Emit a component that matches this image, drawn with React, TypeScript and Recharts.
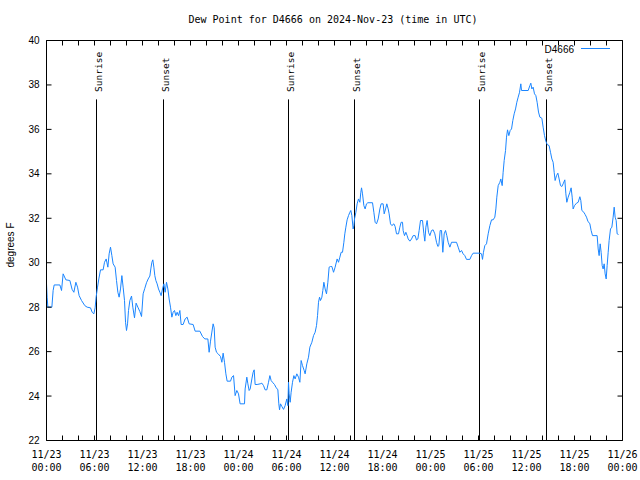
import { LineChart, Line, XAxis, YAxis, ReferenceLine } from 'recharts'

// hours since 2024-11-23 00:00 UTC
const hours = [
  0, 0.08, 0.17, 0.67, 0.83, 0.96, 1.67, 1.88, 2.08, 2.42,
  2.92, 3.2, 3.42, 3.67, 3.88, 4.08, 4.38, 4.79, 5.08, 5.5,
  5.71, 5.92, 6.08, 6.2, 6.38, 6.54, 6.75, 7.08, 7.25, 7.46,
  7.67, 7.83, 8.0, 8.17, 8.33, 8.58, 8.75, 8.92, 9.08, 9.25,
  9.42, 9.58, 9.75, 9.88, 10.0, 10.13, 10.25, 10.42, 10.63, 10.79,
  11.0, 11.2, 11.42,
  11.67, 11.88, 12.08, 12.29, 12.5, 12.71, 12.92, 13.04, 13.17, 13.29,
  13.42, 13.54, 13.67, 13.83, 14.0, 14.17, 14.33, 14.5, 14.67, 14.83,
  15.0, 15.17, 15.33, 15.5, 15.67, 15.83, 16.0, 16.17, 16.33, 16.5,
  16.67, 16.83, 17.08, 17.33, 17.58, 17.83, 18.33, 18.58, 19.17, 19.5,
  19.79, 20.17, 20.33, 20.5, 20.67, 20.83, 20.96, 21.08, 21.25, 21.46,
  21.75, 21.92, 22.08, 22.25, 22.42, 22.58, 23.0,
  23.17, 23.38, 23.58, 23.79, 24.0, 24.2, 24.75, 24.83, 25.04, 25.17,
  25.33, 25.46, 25.67, 25.83, 25.96, 26.08, 26.33, 26.71, 26.92, 27.13,
  27.33, 27.54, 27.75, 27.92, 28.08, 28.25, 28.5, 28.67, 28.92, 29.04,
  29.13, 29.25, 29.42, 29.63, 29.83, 30.04, 30.17, 30.25, 30.33, 30.46,
  30.58, 30.75, 30.92, 31.08, 31.29, 31.5, 31.67, 31.83, 32.0, 32.21,
  32.33, 32.54, 32.75, 32.92, 33.17, 33.38, 33.58, 33.75, 33.88, 34.0,
  34.13, 34.25, 34.42, 34.54, 34.67, 34.83, 35.0, 35.17, 35.33, 35.5,
  35.67, 35.88, 36.08,
  36.33, 36.5, 36.67, 36.83, 37.0, 37.17, 37.29, 37.42, 37.58, 37.75,
  37.92, 38.04, 38.17, 38.33, 38.42, 38.5, 38.67, 38.83, 39.0, 39.17,
  39.29, 39.38, 39.5, 39.67, 39.83, 40.0, 40.17, 40.75, 40.92, 41.08,
  41.25, 41.46, 41.67, 41.83, 42.08, 42.21, 42.38, 42.54, 42.71, 42.83,
  43.0, 43.17, 43.42, 43.58, 43.75, 44.0, 44.17, 44.33, 44.5, 44.58,
  44.75, 44.92, 45.08, 45.21, 45.42, 45.63, 45.83, 46.08, 46.25, 46.42,
  46.58, 46.75, 47.0, 47.17, 47.29, 47.42, 47.58, 47.75, 47.92, 48.13,
  48.33, 48.54, 48.75, 48.92,
  49.04, 49.21, 49.38, 49.54, 49.71, 49.88, 50.04, 50.21, 50.42, 50.63,
  51.25, 51.46, 51.67, 51.88, 52.08, 52.29, 52.5, 52.92, 53.13, 53.33,
  54.17, 54.38, 54.5, 54.62, 54.79, 55.0, 55.21, 55.42, 55.63, 55.83,
  56.04, 56.17, 56.29, 56.46, 56.67, 56.79, 56.96, 57.08, 57.21, 57.38,
  57.5, 57.63, 57.79, 57.96, 58.13, 58.29, 58.46, 58.63, 58.79, 58.96,
  59.13, 59.29,
  59.38, 60.21, 60.42, 60.54, 60.67, 60.83, 61.0, 61.17, 61.33, 61.5,
  61.67, 61.92, 62.08, 62.25, 62.42, 62.58, 62.83, 63.0, 63.17, 63.33,
  63.46, 63.58, 63.75, 63.92, 64.08, 64.25, 64.42, 64.58, 64.79, 64.92,
  65.04, 65.21, 65.42, 65.58, 65.71, 65.83, 66.0, 66.25, 66.46, 66.67,
  66.79, 66.92, 67.17, 67.33, 67.5, 67.67, 67.92, 68.08, 68.25, 68.83,
  68.96, 69.08, 69.21, 69.33, 69.46, 69.58, 69.71, 69.83, 69.96, 70.08,
  70.21, 70.33, 70.5, 70.67, 70.83, 70.96, 71.08, 71.21, 71.33, 71.5,
]

// dew point, degrees F
const dewPoint = [
  29.05, 28.45, 28.0, 28.0, 28.75, 29.0, 29.0, 28.75, 29.5, 29.23,
  29.2, 28.8, 28.67, 29.12, 28.9, 28.52, 28.3, 28.07, 28.0, 27.97,
  27.77, 27.7, 27.97, 28.45, 28.9, 29.27, 29.68, 29.68, 30.02, 30.17,
  29.8, 30.4, 30.7, 30.32, 29.95, 29.8, 29.2, 28.67, 28.45, 28.82,
  29.42, 28.9, 28.3, 27.32, 26.95, 27.25, 27.85, 28.3, 28.5, 28.0,
  27.52, 28.18, 28.0,
  27.8, 27.58, 28.6, 28.85, 29.1, 29.27, 29.4, 29.72, 30.02, 30.13,
  29.8, 29.42, 29.2, 29.05, 28.82, 28.67, 28.52, 28.82, 29.05, 28.67,
  29.12, 28.82, 28.37, 28.0, 27.55, 27.77, 27.85, 27.62, 27.77, 27.62,
  27.85, 27.22, 27.22, 27.47, 27.55, 27.25, 27.22, 26.92, 26.92, 26.68,
  26.57, 26.57, 25.97, 26.47, 26.88, 27.25, 27.07, 26.2, 25.97, 25.9,
  25.78, 25.52, 25.93, 25.52, 25.0, 24.67, 24.67,
  24.85, 24.92, 24.02, 24.25, 24.1, 23.65, 23.65, 24.32, 24.85, 24.55,
  24.25, 24.32, 24.77, 25.07, 25.18, 24.52, 24.52, 24.55, 24.58, 24.47,
  24.28, 24.28, 24.62, 24.92, 24.7, 24.62, 24.52, 24.4, 24.28, 23.65,
  23.38, 23.65, 23.53, 23.4, 23.57, 23.87, 23.57, 24.62, 24.1, 23.72,
  24.17, 24.62, 24.92, 24.77, 25.0, 24.85, 24.62, 25.6, 25.37, 25.15,
  25.0, 25.45, 25.75, 26.2, 26.42, 26.72, 26.87, 27.17, 27.62, 28.22,
  28.45, 28.3, 28.45, 28.75, 29.12, 28.82, 28.6, 29.12, 29.8, 29.83,
  29.83, 29.57, 29.8,
  30.17, 30.02, 30.25, 30.47, 30.47, 30.92, 31.3, 31.6, 31.93, 32.12,
  32.27, 32.35, 32.12, 31.52, 31.67, 31.97, 32.27, 32.65, 32.87, 32.72,
  33.17, 33.37, 33.1, 32.57, 32.42, 32.65, 32.7, 32.7, 32.27, 31.82,
  31.75, 31.97, 32.42, 32.65, 32.65, 32.2, 32.42, 32.65, 32.42, 32.2,
  31.75, 31.67, 31.75, 31.63, 31.3, 31.3, 31.6, 31.82, 31.82, 31.45,
  31.22, 31.37, 31.22, 31.07, 30.97, 31.07, 31.22, 31.22, 31.02, 31.07,
  31.45, 31.9, 31.9, 31.3, 30.97, 31.6, 31.9, 31.37, 31.22, 31.45,
  31.48, 31.3, 30.92, 30.73,
  30.77, 31.45, 31.45, 30.47, 31.3, 31.45, 31.22, 30.92, 30.7, 30.92,
  30.92, 30.7, 30.47, 30.55, 30.4, 30.32, 30.15, 30.15, 30.32, 30.43,
  30.43, 30.4, 30.15, 30.47, 30.77, 30.85, 31.3, 31.67, 31.93, 31.93,
  32.05, 32.42, 32.95, 33.47, 33.62, 33.77, 33.47, 34.07, 34.6, 35.05,
  35.65, 35.98, 35.72, 35.95, 36.02, 36.4, 36.7, 36.92, 37.22, 37.45,
  37.67, 38.05,
  37.75, 37.75, 37.97, 38.08, 37.82, 37.9, 37.6, 37.52, 37.22, 36.78,
  36.55, 36.5, 36.1, 35.72, 35.47, 35.32, 35.27, 34.97, 34.67, 34.52,
  34.07, 33.7, 33.92, 34.03, 33.77, 33.47, 33.43, 33.55, 33.73, 33.1,
  32.72, 32.95, 33.17, 33.37, 32.95, 32.42, 32.57, 32.68, 32.72, 32.97,
  32.8, 32.35, 32.27, 32.17, 32.05, 31.87, 31.75, 31.45, 31.22, 31.22,
  30.62, 30.32, 30.85, 30.47, 29.87, 29.72, 29.95, 29.5, 29.27, 29.87,
  30.47, 31.0, 31.52, 31.6, 32.05, 32.5, 32.05, 31.9, 31.3, 31.27,
]

const xTicks = [
  0, 2, 4, 6, 8, 10, 12, 14, 16, 18, 20, 22, 24, 26, 28, 30, 32, 34, 36,
  38, 40, 42, 44, 46, 48, 50, 52, 54, 56, 58, 60, 62, 64, 66, 68, 70, 72,
]
const yTicks = [22, 24, 26, 28, 30, 32, 34, 36, 38, 40]
const dayLabels = ['11/23', '11/24', '11/25', '11/26']

const sunrises = [6.25, 30.25, 54.125]
const sunsets = [14.625, 38.5, 62.5]
const markerTop = 37.35

const data = hours.map((h, i) => ({ h, dp: dewPoint[i] }))

const SANS = '"Liberation Sans", Arial, sans-serif'
const MONO = '"DejaVu Sans Mono", monospace'
const BLUE = '#1a85ff'

const XTick = (props: any) => {
  const h = props.payload.value
  if (h % 6 !== 0) return <g />
  const day = dayLabels[Math.floor(h / 24)]
  const hh = String(h % 24).padStart(2, '0')
  return (
    <text textAnchor="middle" fontFamily={MONO} fontSize={10} fill="#000">
      <tspan x={props.x} y={458}>{day}</tspan>
      <tspan x={props.x} y={471}>{hh + ':00'}</tspan>
    </text>
  )
}

const YTick = (props: any) => (
  <text x={39.5} y={props.y + 3.5} textAnchor="end" fontFamily={SANS} fontSize={10} fill="#000">
    {props.payload.value}
  </text>
)

const Empty = () => <g />

const markerLabel = (text: string) => (props: any) => {
  const { x, y } = props.viewBox
  return (
    <text
      transform={`translate(${x + 5}, ${y - 7.5}) rotate(-90)`}
      fontFamily={MONO}
      fontSize={9.5}
      fill="#000"
    >
      {text}
    </text>
  )
}

export default function App() {
  return (
    <div style={{ position: 'absolute', left: 0, top: 0, width: 640, height: 480, background: '#fff' }}>
      <LineChart
        width={640}
        height={480}
        data={data}
        margin={{ top: 39.5, right: 16.5, bottom: 0, left: 0 }}
      >
        <XAxis
          dataKey="h"
          type="number"
          domain={[0, 72]}
          allowDataOverflow
          ticks={xTicks}
          interval={0}
          tickSize={-5}
          height={39.5}
          stroke="#000"
          tick={<XTick />}
        />
        <XAxis
          xAxisId="top"
          orientation="top"
          dataKey="h"
          type="number"
          domain={[0, 72]}
          allowDataOverflow
          ticks={xTicks}
          interval={0}
          tickSize={-5}
          height={1}
          stroke="#000"
          tick={<Empty />}
        />
        <YAxis
          type="number"
          domain={[22, 40]}
          allowDataOverflow
          ticks={yTicks}
          interval={0}
          tickSize={-5}
          width={46.5}
          stroke="#000"
          tick={<YTick />}
        />
        <YAxis
          yAxisId="right"
          orientation="right"
          type="number"
          domain={[22, 40]}
          allowDataOverflow
          ticks={yTicks}
          interval={0}
          tickSize={-5}
          width={1}
          stroke="#000"
          tick={<Empty />}
        />
        {sunrises.map((h) => (
          <ReferenceLine
            key={'r' + h}
            segment={[{ x: h, y: 22 }, { x: h, y: markerTop }]}
            stroke="#000"
            strokeWidth={1}
            label={markerLabel('Sunrise')}
          />
        ))}
        {sunsets.map((h) => (
          <ReferenceLine
            key={'s' + h}
            segment={[{ x: h, y: 22 }, { x: h, y: markerTop }]}
            stroke="#000"
            strokeWidth={1}
            label={markerLabel('Sunset')}
          />
        ))}
        <Line
          type="linear"
          dataKey="dp"
          stroke={BLUE}
          strokeWidth={1}
          dot={false}
          isAnimationActive={false}
        />
      </LineChart>
      <svg width={640} height={480} style={{ position: 'absolute', left: 0, top: 0, pointerEvents: 'none' }}>
        <text x={333} y={23} textAnchor="middle" fontFamily={MONO} fontSize={10} fill="#000">
          Dew Point for D4666 on 2024-Nov-23 (time in UTC)
        </text>
        <text x={574} y={53} textAnchor="end" fontFamily={SANS} fontSize={10} fill="#000">
          D4666
        </text>
        <line x1={581} x2={610} y1={48.5} y2={48.5} stroke={BLUE} strokeWidth={1} />
        <text
          transform="translate(14, 245) rotate(-90)"
          textAnchor="middle"
          fontFamily={SANS}
          fontSize={10}
          fill="#000"
        >
          degrees F
        </text>
      </svg>
    </div>
  )
}
